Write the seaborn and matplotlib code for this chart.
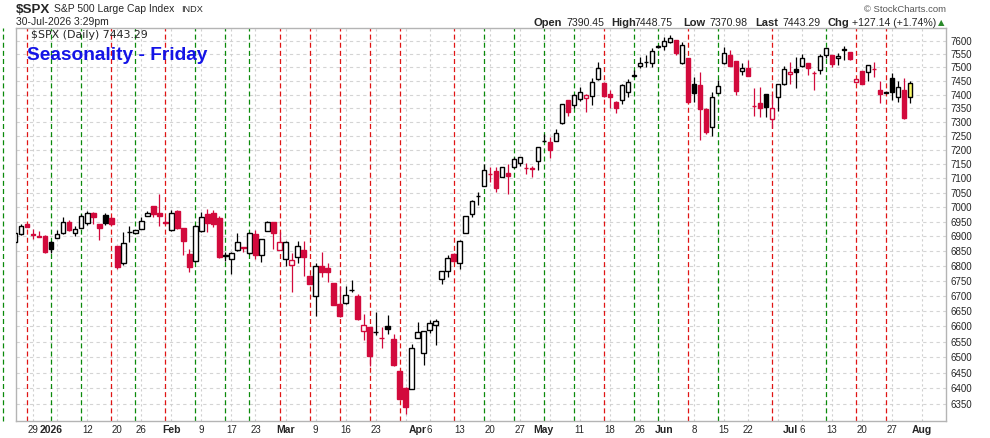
import matplotlib
matplotlib.use('Agg')
import matplotlib.pyplot as plt
import numpy as np
import pandas as pd
import seaborn as sns
from matplotlib.ticker import FixedLocator, NullLocator

sns.set_style('white')
plt.rcParams['font.family'] = ['Liberation Sans', 'DejaVu Sans']

# trading calendar (NYSE holidays in range)
holidays = ['2025-12-25', '2026-01-01', '2026-01-19', '2026-02-16', '2026-04-03',
            '2026-05-25', '2026-06-19', '2026-07-03']
bday = pd.offsets.CustomBusinessDay(holidays=holidays)
axis_dates = pd.date_range('2025-12-19', '2026-08-07', freq=bday)
dates = pd.date_range('2025-12-23', '2026-07-30', freq=bday)

opens = [6880, 6907, 6941, 6909, 6902, 6902, 6882, 6895, 6912, 6948,
         6912, 6929, 6946, 6981, 6941, 6974, 6963, 6866, 6811, 6914,
         6912, 6926, 6969, 7003, 6981, 6950, 6920, 6988, 6927, 6838,
         6817, 6917, 6976, 6978, 6961, 6834, 6822, 6854, 6862, 6842,
         6906, 6836, 6919, 6948, 6853, 6823, 6802, 6831, 6852, 6767,
         6700, 6798, 6792, 6742, 6674, 6675, 6718, 6698, 6584, 6597,
         6580, 6562, 6600, 6559, 6455, 6403, 6398, 6563, 6514, 6586,
         6603, 6756, 6783, 6840, 6808, 6911, 6977, 7037, 7074, 7117,
         7127, 7105, 7119, 7139, 7153, 7138, 7135, 7162, 7232, 7228,
         7233, 7296, 7379, 7363, 7385, 7388, 7394, 7456, 7444, 7403,
         7375, 7380, 7409, 7470, 7507, 7519, 7515, 7577, 7580, 7594,
         7603, 7515, 7534, 7439, 7435, 7348, 7282, 7407, 7515, 7546,
         7524, 7487, 7499, 7360, 7370, 7401, 7311, 7391, 7438, 7476,
         7495, 7504, 7516, 7480, 7489, 7546, 7546, 7534, 7567, 7556,
         7447, 7486, 7484, 7495, 7416, 7406, 7460, 7390, 7416, 7390.45]
highs = [6915, 6941, 6943, 6924, 6917, 6903, 6884, 6922, 6967, 6955,
         6936, 6975, 6987, 6983, 6942, 6980, 6966, 6868, 6913, 6935,
         6921, 6967, 6986, 7004, 7045, 6967, 6989, 6990, 6928, 6857,
         6940, 6984, 6993, 6989, 6968, 6845, 6846, 6912, 6864, 6913,
         6922, 6890, 6953, 6949, 6913, 6883, 6844, 6885, 6885, 6768,
         6810, 6845, 6810, 6743, 6733, 6733, 6752, 6705, 6640, 6598,
         6648, 6597, 6636, 6576, 6456, 6404, 6541, 6613, 6585, 6621,
         6624, 6784, 6837, 6842, 6887, 6971, 7023, 7052, 7150, 7139,
         7139, 7140, 7150, 7174, 7175, 7153, 7142, 7211, 7257, 7245,
         7275, 7366, 7380, 7401, 7429, 7402, 7462, 7520, 7445, 7418,
         7376, 7440, 7457, 7490, 7538, 7545, 7572, 7582, 7615, 7621,
         7604, 7594, 7535, 7466, 7485, 7350, 7410, 7453, 7578, 7565,
         7525, 7515, 7528, 7423, 7427, 7402, 7401, 7439, 7505, 7522,
         7538, 7550, 7517, 7486, 7550, 7572, 7547, 7553, 7580, 7557,
         7459, 7487, 7511, 7521, 7450, 7409, 7478, 7450, 7460, 7448.75]
lows = [6874, 6905, 6930, 6890, 6896, 6843, 6843, 6893, 6907, 6919,
        6901, 6927, 6940, 6941, 6886, 6938, 6939, 6789, 6803, 6880,
        6911, 6925, 6968, 6967, 6935, 6942, 6919, 6925, 6836, 6780,
        6812, 6916, 6915, 6930, 6826, 6815, 6774, 6850, 6846, 6841,
        6822, 6813, 6918, 6855, 6852, 6798, 6711, 6811, 6767, 6738,
        6634, 6761, 6745, 6669, 6631, 6674, 6711, 6621, 6556, 6470,
        6570, 6530, 6574, 6473, 6367, 6320, 6397, 6560, 6475, 6578,
        6539, 6739, 6761, 6815, 6790, 6910, 6966, 7006, 7073, 7088,
        7052, 7104, 7045, 7136, 7145, 7114, 7106, 7129, 7228, 7173,
        7232, 7295, 7322, 7350, 7378, 7338, 7364, 7455, 7393, 7350,
        7335, 7365, 7390, 7466, 7497, 7500, 7500, 7573, 7565, 7590,
        7545, 7514, 7374, 7372, 7237, 7258, 7250, 7405, 7514, 7506,
        7398, 7472, 7469, 7324, 7318, 7320, 7278, 7342, 7437, 7440,
        7423, 7503, 7472, 7417, 7476, 7534, 7500, 7509, 7528, 7529,
        7446, 7439, 7450, 7466, 7371, 7405, 7381, 7375, 7311, 7370.98]
closes = [6910, 6936, 6932, 6903, 6897, 6846, 6858, 6906, 6948, 6921,
          6924, 6970, 6980, 6965, 6929, 6946, 6942, 6797, 6876, 6916,
          6920, 6953, 6980, 6977, 6968, 6944, 6980, 6927, 6883, 6797,
          6936, 6967, 6944, 6941, 6829, 6836, 6844, 6882, 6860, 6912,
          6836, 6889, 6950, 6912, 6879, 6882, 6818, 6868, 6831, 6739,
          6798, 6780, 6778, 6670, 6632, 6702, 6720, 6623, 6605, 6505,
          6582, 6560, 6592, 6475, 6368, 6342, 6530, 6580, 6584, 6612,
          6617, 6783, 6826, 6816, 6885, 6970, 7022, 7039, 7129, 7115,
          7068, 7139, 7110, 7168, 7174, 7136, 7133, 7210, 7234, 7201,
          7262, 7365, 7338, 7400, 7409, 7400, 7445, 7499, 7394, 7390,
          7352, 7436, 7445, 7472, 7515, 7522, 7561, 7580, 7599, 7609,
          7553, 7584, 7375, 7405, 7348, 7264, 7393, 7431, 7553, 7507,
          7414, 7499, 7470, 7358, 7352, 7355, 7350, 7438, 7496, 7483,
          7485, 7534, 7499, 7478, 7543, 7571, 7512, 7543, 7569, 7530,
          7458, 7440, 7510, 7493, 7404, 7408, 7410, 7427, 7316.15, 7443.29]
prev_close = 6900

# Friday markers (green = up, red = down)
friday_colors = ['g', 'r', 'g', 'g', 'r', 'g', 'r', 'g', 'g', 'g',
                 'r', 'r', 'r', 'r', 'r', 'r', 'g', 'g', 'g', 'g',
                 'r', 'g', 'g', 'r', 'g', 'r', 'g', 'r', 'r']

tick_dates = ['2025-12-29', '2026-01-02', '2026-01-12', '2026-01-20', '2026-01-26',
              '2026-02-02', '2026-02-09', '2026-02-17', '2026-02-23', '2026-03-02',
              '2026-03-09', '2026-03-16', '2026-03-23', '2026-04-01', '2026-04-06',
              '2026-04-13', '2026-04-20', '2026-04-27', '2026-05-01', '2026-05-11',
              '2026-05-18', '2026-05-26', '2026-06-01', '2026-06-08', '2026-06-15',
              '2026-06-22', '2026-07-01', '2026-07-06', '2026-07-13', '2026-07-20',
              '2026-07-27', '2026-08-03']
tick_labels = ['29', '2026', '12', '20', '26', 'Feb', '9', '17', '23', 'Mar',
               '9', '16', '23', 'Apr', '6', '13', '20', '27', 'May', '11',
               '18', '26', 'Jun', '8', '15', '22', 'Jul', '6', '13', '20',
               '27', 'Aug']
price_ticks = list(range(6350, 7601, 50))

RED = '#d20a3c'
W, H = 990, 438
pos = {d: k for k, d in enumerate(axis_dates)}

fig = plt.figure(figsize=(9.9, 4.38), dpi=100)
ax = fig.add_axes([16 / W, 1 - 421 / H, (945.7 - 16) / W, (421 - 28.3) / H])
ax.set_yscale('log')
ax.set_ylim(6297.9, 7646.7)
ax.set_xlim(2.12, 156.94)

# grid
ax.yaxis.set_major_locator(FixedLocator(price_ticks))
ax.yaxis.set_minor_locator(NullLocator())
ax.set_yticklabels([str(p) for p in price_ticks])
for p in price_ticks:
    ax.axhline(p, color='#d4d4d4', lw=0.8, ls=(0, (3, 3)), zorder=0)
week_starts = [k for k in range(1, len(axis_dates))
               if axis_dates[k].weekday() < axis_dates[k - 1].weekday()]
for k in week_starts:
    ax.axvline(k, color='#cfcfcf', lw=0.8, ls=(0, (2, 2.5)), zorder=0)

# Friday lines
fridays = [d for d in axis_dates if d.weekday() == 4 and d <= dates[-1]]
for d, c in zip(fridays, friday_colors):
    ax.vlines(pos[d], 0, 1, transform=ax.get_xaxis_transform(), clip_on=False,
              color='#0a8a0a' if c == 'g' else '#e01414', lw=0.9,
              ls=(0, (4, 2.5)), zorder=1)

# candles
df = pd.DataFrame({'date': dates, 'open': opens, 'high': highs,
                   'low': lows, 'close': closes})
df['x'] = [pos[d] for d in df['date']]
df['prev'] = df['close'].shift(1).fillna(prev_close)
for k, r in df.iterrows():
    col = RED if r['close'] < r['prev'] else 'black'
    hollow = r['close'] >= r['open']
    face = 'white' if hollow else col
    if k == len(df) - 1:
        face = '#fbfb6a'
    ax.vlines(r['x'], r['low'], r['high'], color=col, lw=0.9, zorder=2)
    lo, hi = min(r['open'], r['close']), max(r['open'], r['close'])
    ax.bar(r['x'], hi - lo, bottom=lo, width=0.72, facecolor=face,
           edgecolor=col, linewidth=1.0, zorder=3)

# axes styling
for s in ax.spines.values():
    s.set_color('#b4b4b4')
    s.set_linewidth(1)
ax.yaxis.tick_right()
ax.tick_params(axis='y', length=0, pad=3.6, labelsize=7)
ax.set_xticks([pos[pd.Timestamp(d)] for d in tick_dates])
ax.set_xticklabels(tick_labels)
ax.tick_params(axis='x', length=0, pad=3, labelsize=7)
for t in ax.get_xticklabels():
    if not t.get_text().isdigit() or t.get_text() == '2026':
        t.set_fontweight('bold')
        t.set_fontsize(7.5)


def ftxt(x, y, s, **kw):
    fig.text(x / W, 1 - y / H, s, va='baseline', **kw)


ftxt(16, 13, '$SPX', fontsize=9.6, fontweight='bold')
ftxt(54, 12.5, 'S&P 500 Large Cap Index', fontsize=7.5)
ftxt(181, 12.5, 'INDX', fontsize=6.6)
ftxt(16, 25, '30-Jul-2026 3:29pm', fontsize=7.5)
ftxt(31, 37.5, '$SPX (Daily) 7443.29', fontsize=7.9, family='DejaVu Sans')
ftxt(27, 60, 'Seasonality - Friday', fontsize=13.8, fontweight='bold', color='#1414e6')
ftxt(946, 12, '\u00a9 StockCharts.com', fontsize=6.8, color='#555555', ha='right')
for x, s, b in [(533, 'Open', True), (566, '7390.45', False), (611, 'High', True),
                (634, '7448.75', False), (683, 'Low', True), (709, '7370.98', False),
                (755, 'Last', True), (782, '7443.29', False), (827, 'Chg', True),
                (852, '+127.14 (+1.74%)', False)]:
    ftxt(x, 25.5, s, fontsize=8 if b else 7.6, fontweight='bold' if b else 'normal')
ftxt(938, 25, '\u25b2', fontsize=6, color='#2a8a2a', family='DejaVu Sans')

fig.savefig('out.png', dpi=100)
